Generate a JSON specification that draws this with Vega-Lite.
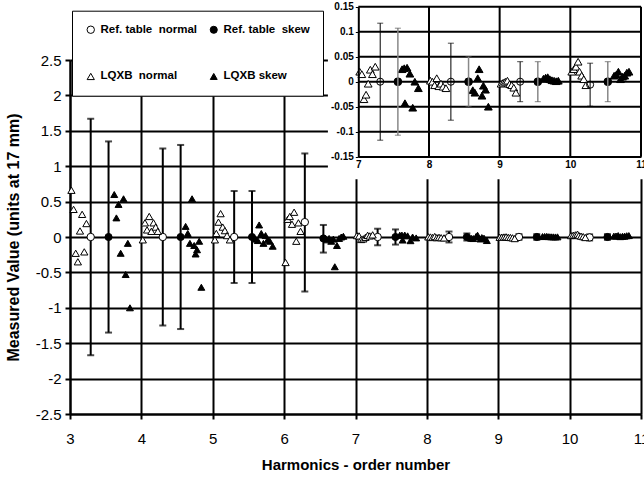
{
  "$schema": "https://vega.github.io/schema/vega-lite/v6.json",
  "width": 571,
  "height": 354,
  "autosize": {"type": "none"},
  "padding": {"left": 70, "top": 60, "right": 3, "bottom": 67},
  "background": "white",
  "config": {
    "font": "Liberation Sans",
    "view": {"stroke": null},
    "axis": {"labelColor": "black", "titleColor": "black", "domainColor": "black", "tickColor": "black", "gridColor": "black"}
  },
  "datasets": {
    "pts": [
      {"s": "Ref. table\u00a0 normal", "x": 3.29, "y": 0, "lo": -1.67, "hi": 1.67},
      {"s": "Ref. table\u00a0 normal", "x": 4.3, "y": 0, "lo": -1.25, "hi": 1.25},
      {"s": "Ref. table\u00a0 normal", "x": 5.3, "y": 0, "lo": -0.65, "hi": 0.65},
      {"s": "Ref. table\u00a0 normal", "x": 6.29, "y": 0.21, "lo": -0.77, "hi": 1.18},
      {"s": "Ref. table\u00a0 normal", "x": 7.31, "y": 0, "lo": -0.117, "hi": 0.117},
      {"s": "Ref. table\u00a0 normal", "x": 8.31, "y": 0, "lo": -0.077, "hi": 0.077},
      {"s": "Ref. table\u00a0 normal", "x": 9.29, "y": 0, "lo": -0.04, "hi": 0.04},
      {"s": "Ref. table\u00a0 normal", "x": 10.28, "y": -0.006, "lo": -0.049, "hi": 0.037},
      {"s": "Ref. table\u00a0 skew", "x": 3.54, "y": 0, "lo": -1.35, "hi": 1.35},
      {"s": "Ref. table\u00a0 skew", "x": 4.55, "y": 0, "lo": -1.3, "hi": 1.3},
      {"s": "Ref. table\u00a0 skew", "x": 5.55, "y": 0, "lo": -0.65, "hi": 0.65},
      {"s": "Ref. table\u00a0 skew", "x": 6.55, "y": -0.02, "lo": -0.22, "hi": 0.17},
      {"s": "Ref. table\u00a0 skew", "x": 7.56, "y": 0, "lo": -0.107, "hi": 0.107},
      {"s": "Ref. table\u00a0 skew", "x": 8.56, "y": 0, "lo": -0.05, "hi": 0.05},
      {"s": "Ref. table\u00a0 skew", "x": 9.54, "y": 0, "lo": -0.04, "hi": 0.04},
      {"s": "Ref. table\u00a0 skew", "x": 10.53, "y": 0, "lo": -0.04, "hi": 0.04},
      {"s": "LQXB\u00a0 normal", "x": 3.02, "y": 0.66}, {"s": "LQXB\u00a0 normal", "x": 3.05, "y": 0.39},
      {"s": "LQXB\u00a0 normal", "x": 3.08, "y": -0.23}, {"s": "LQXB\u00a0 normal", "x": 3.11, "y": -0.35},
      {"s": "LQXB\u00a0 normal", "x": 3.14, "y": 0.085}, {"s": "LQXB\u00a0 normal", "x": 3.17, "y": 0.32},
      {"s": "LQXB\u00a0 normal", "x": 3.2, "y": -0.21}, {"s": "LQXB\u00a0 normal", "x": 3.23, "y": 0.19},
      {"s": "LQXB\u00a0 normal", "x": 4.02, "y": -0.04}, {"s": "LQXB\u00a0 normal", "x": 4.05, "y": 0.2},
      {"s": "LQXB\u00a0 normal", "x": 4.08, "y": 0.1}, {"s": "LQXB\u00a0 normal", "x": 4.11, "y": 0.29},
      {"s": "LQXB\u00a0 normal", "x": 4.14, "y": 0.08}, {"s": "LQXB\u00a0 normal", "x": 4.17, "y": 0.2},
      {"s": "LQXB\u00a0 normal", "x": 4.2, "y": 0.14}, {"s": "LQXB\u00a0 normal", "x": 4.23, "y": 0.08},
      {"s": "LQXB\u00a0 normal", "x": 5.03, "y": -0.04}, {"s": "LQXB\u00a0 normal", "x": 5.05, "y": 0.05},
      {"s": "LQXB\u00a0 normal", "x": 5.08, "y": 0.21}, {"s": "LQXB\u00a0 normal", "x": 5.11, "y": 0.33},
      {"s": "LQXB\u00a0 normal", "x": 5.14, "y": 0.14}, {"s": "LQXB\u00a0 normal", "x": 5.17, "y": 0.09},
      {"s": "LQXB\u00a0 normal", "x": 5.2, "y": 0.02}, {"s": "LQXB\u00a0 normal", "x": 5.24, "y": -0.04},
      {"s": "LQXB\u00a0 normal", "x": 6.02, "y": -0.36}, {"s": "LQXB\u00a0 normal", "x": 6.05, "y": 0.25},
      {"s": "LQXB\u00a0 normal", "x": 6.08, "y": 0.29}, {"s": "LQXB\u00a0 normal", "x": 6.11, "y": 0.18},
      {"s": "LQXB\u00a0 normal", "x": 6.14, "y": 0.35}, {"s": "LQXB\u00a0 normal", "x": 6.17, "y": -0.06},
      {"s": "LQXB\u00a0 normal", "x": 6.2, "y": 0.2}, {"s": "LQXB\u00a0 normal", "x": 6.23, "y": 0.08},
      {"s": "LQXB\u00a0 normal", "x": 7.02, "y": 0.02}, {"s": "LQXB\u00a0 normal", "x": 7.05, "y": 0.015},
      {"s": "LQXB\u00a0 normal", "x": 7.08, "y": -0.035}, {"s": "LQXB\u00a0 normal", "x": 7.11, "y": -0.026},
      {"s": "LQXB\u00a0 normal", "x": 7.14, "y": -0.004}, {"s": "LQXB\u00a0 normal", "x": 7.17, "y": 0.024},
      {"s": "LQXB\u00a0 normal", "x": 7.2, "y": 0.015}, {"s": "LQXB\u00a0 normal", "x": 7.24, "y": 0.03},
      {"s": "LQXB\u00a0 normal", "x": 8.02, "y": 0.002}, {"s": "LQXB\u00a0 normal", "x": 8.05, "y": 0.0},
      {"s": "LQXB\u00a0 normal", "x": 8.08, "y": -0.007}, {"s": "LQXB\u00a0 normal", "x": 8.11, "y": 0.007},
      {"s": "LQXB\u00a0 normal", "x": 8.14, "y": -0.009}, {"s": "LQXB\u00a0 normal", "x": 8.17, "y": -0.004},
      {"s": "LQXB\u00a0 normal", "x": 8.2, "y": -0.01}, {"s": "LQXB\u00a0 normal", "x": 8.24, "y": -0.013},
      {"s": "LQXB\u00a0 normal", "x": 9.02, "y": -0.004}, {"s": "LQXB\u00a0 normal", "x": 9.05, "y": -0.002},
      {"s": "LQXB\u00a0 normal", "x": 9.08, "y": 0.0}, {"s": "LQXB\u00a0 normal", "x": 9.11, "y": 0.002},
      {"s": "LQXB\u00a0 normal", "x": 9.14, "y": -0.005}, {"s": "LQXB\u00a0 normal", "x": 9.17, "y": -0.007},
      {"s": "LQXB\u00a0 normal", "x": 9.2, "y": -0.012}, {"s": "LQXB\u00a0 normal", "x": 9.23, "y": -0.022},
      {"s": "LQXB\u00a0 normal", "x": 10.02, "y": 0.02}, {"s": "LQXB\u00a0 normal", "x": 10.05, "y": 0.025},
      {"s": "LQXB\u00a0 normal", "x": 10.08, "y": 0.03}, {"s": "LQXB\u00a0 normal", "x": 10.11, "y": 0.04},
      {"s": "LQXB\u00a0 normal", "x": 10.13, "y": 0.02}, {"s": "LQXB\u00a0 normal", "x": 10.16, "y": 0.012},
      {"s": "LQXB\u00a0 normal", "x": 10.19, "y": 0.005}, {"s": "LQXB\u00a0 normal", "x": 10.22, "y": -0.007},
      {"s": "LQXB skew", "x": 3.62, "y": 0.6}, {"s": "LQXB skew", "x": 3.65, "y": 0.27},
      {"s": "LQXB skew", "x": 3.68, "y": 0.46}, {"s": "LQXB skew", "x": 3.71, "y": -0.23},
      {"s": "LQXB skew", "x": 3.75, "y": 0.54}, {"s": "LQXB skew", "x": 3.78, "y": -0.53},
      {"s": "LQXB skew", "x": 3.81, "y": -0.09}, {"s": "LQXB skew", "x": 3.84, "y": -1.0},
      {"s": "LQXB skew", "x": 4.62, "y": 0.15}, {"s": "LQXB skew", "x": 4.65, "y": 0.05},
      {"s": "LQXB skew", "x": 4.68, "y": -0.09}, {"s": "LQXB skew", "x": 4.71, "y": 0.54},
      {"s": "LQXB skew", "x": 4.74, "y": -0.12}, {"s": "LQXB skew", "x": 4.76, "y": -0.24},
      {"s": "LQXB skew", "x": 4.78, "y": -0.18}, {"s": "LQXB skew", "x": 4.81, "y": -0.06},
      {"s": "LQXB skew", "x": 4.84, "y": -0.71},
      {"s": "LQXB skew", "x": 5.6, "y": -0.03}, {"s": "LQXB skew", "x": 5.63, "y": -0.05},
      {"s": "LQXB skew", "x": 5.65, "y": 0.17}, {"s": "LQXB skew", "x": 5.68, "y": 0.05},
      {"s": "LQXB skew", "x": 5.71, "y": -0.09}, {"s": "LQXB skew", "x": 5.74, "y": 0.02},
      {"s": "LQXB skew", "x": 5.77, "y": -0.04}, {"s": "LQXB skew", "x": 5.8, "y": -0.06},
      {"s": "LQXB skew", "x": 5.84, "y": -0.13},
      {"s": "LQXB skew", "x": 6.6, "y": -0.04}, {"s": "LQXB skew", "x": 6.63, "y": -0.02},
      {"s": "LQXB skew", "x": 6.66, "y": -0.06}, {"s": "LQXB skew", "x": 6.69, "y": -0.03},
      {"s": "LQXB skew", "x": 6.71, "y": -0.42}, {"s": "LQXB skew", "x": 6.74, "y": -0.12},
      {"s": "LQXB skew", "x": 6.77, "y": -0.02}, {"s": "LQXB skew", "x": 6.8, "y": 0.0},
      {"s": "LQXB skew", "x": 6.83, "y": 0.01},
      {"s": "LQXB skew", "x": 7.62, "y": 0.025}, {"s": "LQXB skew", "x": 7.65, "y": 0.027},
      {"s": "LQXB skew", "x": 7.66, "y": -0.043}, {"s": "LQXB skew", "x": 7.69, "y": 0.028},
      {"s": "LQXB skew", "x": 7.73, "y": 0.016}, {"s": "LQXB skew", "x": 7.77, "y": -0.052},
      {"s": "LQXB skew", "x": 7.8, "y": 0.0}, {"s": "LQXB skew", "x": 7.85, "y": -0.013},
      {"s": "LQXB skew", "x": 8.62, "y": -0.017}, {"s": "LQXB skew", "x": 8.65, "y": -0.022},
      {"s": "LQXB skew", "x": 8.69, "y": 0.007}, {"s": "LQXB skew", "x": 8.71, "y": 0.025},
      {"s": "LQXB skew", "x": 8.75, "y": -0.028}, {"s": "LQXB skew", "x": 8.77, "y": -0.008},
      {"s": "LQXB skew", "x": 8.8, "y": -0.016}, {"s": "LQXB skew", "x": 8.84, "y": -0.05},
      {"s": "LQXB skew", "x": 9.62, "y": 0.006}, {"s": "LQXB skew", "x": 9.65, "y": 0.008},
      {"s": "LQXB skew", "x": 9.68, "y": 0.009}, {"s": "LQXB skew", "x": 9.71, "y": 0.005},
      {"s": "LQXB skew", "x": 9.74, "y": 0.003}, {"s": "LQXB skew", "x": 9.77, "y": 0.002},
      {"s": "LQXB skew", "x": 9.8, "y": 0.001}, {"s": "LQXB skew", "x": 9.83, "y": 0.002},
      {"s": "LQXB skew", "x": 10.62, "y": 0.012}, {"s": "LQXB skew", "x": 10.65, "y": 0.014},
      {"s": "LQXB skew", "x": 10.68, "y": 0.02}, {"s": "LQXB skew", "x": 10.71, "y": 0.005},
      {"s": "LQXB skew", "x": 10.74, "y": 0.01}, {"s": "LQXB skew", "x": 10.77, "y": 0.012},
      {"s": "LQXB skew", "x": 10.8, "y": 0.018}, {"s": "LQXB skew", "x": 10.83, "y": 0.02}
    ],
    "igy": [{"v": -0.1}, {"v": -0.05}, {"v": 0}, {"v": 0.05}, {"v": 0.1}, {"v": 0.15}],
    "igx": [{"v": 8}, {"v": 9}, {"v": 10}, {"v": 11}]
  },
  "layer": [
    {
      "data": {"name": "pts"},
      "encoding": {
        "x": {"field": "x", "type": "quantitative", "title": "Harmonics - order number",
          "scale": {"domain": [3, 11], "nice": false, "zero": false},
          "axis": {"orient": "bottom", "values": [3, 4, 5, 6, 7, 8, 9, 10, 11], "tickCount": 20, "grid": true, "gridWidth": 2, "domainWidth": 2, "tickWidth": 2, "tickSize": 5,
            "labelFontSize": 15, "labelPadding": 12, "labelFlush": false, "labelOverlap": false, "labelExpr": "'' + datum.value",
            "titleFontSize": 15, "titleFontWeight": "bold", "titlePadding": 11, "zindex": 0}}
      },
      "layer": [
        {
          "transform": [{"filter": "isValid(datum.lo)"}],
          "mark": {"type": "rule", "color": "black", "strokeWidth": 2},
          "encoding": {
            "y": {"field": "lo", "type": "quantitative", "title": "Measured Value (units at 17 mm)",
              "scale": {"domain": [-2.5, 2.5], "nice": false, "zero": false},
              "axis": {"orient": "left", "values": [-2.5, -2, -1.5, -1, -0.5, 0, 0.5, 1, 1.5, 2, 2.5], "tickCount": 20, "grid": true, "gridWidth": 2, "domainWidth": 2, "tickWidth": 2, "tickSize": 5,
                "labelFontSize": 15, "labelPadding": 4, "labelOverlap": false, "labelExpr": "'' + datum.value",
                "titleFontSize": 16, "titleFontWeight": "bold", "titlePadding": 14, "zindex": 0}},
            "y2": {"field": "hi"}
          }
        },
        {
          "transform": [{"filter": "isValid(datum.lo)"}],
          "mark": {"type": "point", "shape": "stroke", "size": 49, "stroke": "black", "strokeWidth": 2, "filled": false},
          "encoding": {"y": {"field": "lo", "type": "quantitative"}}
        },
        {
          "transform": [{"filter": "isValid(datum.lo)"}],
          "mark": {"type": "point", "shape": "stroke", "size": 49, "stroke": "black", "strokeWidth": 2, "filled": false},
          "encoding": {"y": {"field": "hi", "type": "quantitative"}}
        },
        {
          "mark": {"type": "point", "filled": true, "strokeWidth": 1, "opacity": 1},
          "encoding": {
            "y": {"field": "y", "type": "quantitative"},
            "shape": {"field": "s", "type": "nominal", "title": null,
              "scale": {"domain": ["Ref. table\u00a0 normal", "LQXB\u00a0 normal", "Ref. table\u00a0 skew", "LQXB skew"], "range": ["circle", "triangle-up", "circle", "triangle-up"]},
              "legend": {"orient": "none", "legendX": 2, "legendY": -49.3, "columns": 2, "padding": 13, "rowPadding": 34, "columnPadding": 11,
                "fillColor": "white", "strokeColor": "black", "labelFontWeight": "bold", "labelFontSize": 11.5, "labelColor": "black", "labelOffset": 4, "labelLimit": 250, "symbolStrokeWidth": 1}},
            "fill": {"field": "s", "type": "nominal", "title": null,
              "scale": {"domain": ["Ref. table\u00a0 normal", "LQXB\u00a0 normal", "Ref. table\u00a0 skew", "LQXB skew"], "range": ["white", "white", "black", "black"]},
              "legend": {"orient": "none", "legendX": 2, "legendY": -49.3, "columns": 2, "padding": 13, "rowPadding": 34, "columnPadding": 11,
                "fillColor": "white", "strokeColor": "black", "labelFontWeight": "bold", "labelFontSize": 11.5, "labelColor": "black", "labelOffset": 4, "labelLimit": 250, "symbolStrokeWidth": 1}},
            "stroke": {"field": "s", "type": "nominal", "title": null,
              "scale": {"domain": ["Ref. table\u00a0 normal", "LQXB\u00a0 normal", "Ref. table\u00a0 skew", "LQXB skew"], "range": ["black", "black", "black", "black"]},
              "legend": {"orient": "none", "legendX": 2, "legendY": -49.3, "columns": 2, "padding": 13, "rowPadding": 34, "columnPadding": 11,
                "fillColor": "white", "strokeColor": "black", "labelFontWeight": "bold", "labelFontSize": 11.5, "labelColor": "black", "labelOffset": 4, "labelLimit": 250, "symbolStrokeWidth": 1}},
            "size": {"field": "s", "type": "nominal", "title": null,
              "scale": {"domain": ["Ref. table\u00a0 normal", "LQXB\u00a0 normal", "Ref. table\u00a0 skew", "LQXB skew"], "range": [55, 48, 55, 36]},
              "legend": {"orient": "none", "legendX": 2, "legendY": -49.3, "columns": 2, "padding": 13, "rowPadding": 34, "columnPadding": 11,
                "fillColor": "white", "strokeColor": "black", "labelFontWeight": "bold", "labelFontSize": 11.5, "labelColor": "black", "labelOffset": 4, "labelLimit": 250, "symbolStrokeWidth": 1}}
          }
        }
      ]
    },
    {
      "encoding": {
        "x": {"type": "quantitative", "title": null,
          "scale": {"domain": [7, 11], "range": [288.3, 571], "nice": false, "zero": false},
          "axis": {"orient": "bottom", "offset": -257.6, "values": [7, 8, 9, 10, 11], "tickCount": 20, "grid": false, "domainWidth": 2, "tickSize": 0,
            "labelFontSize": 10, "labelFontWeight": "bold", "labelPadding": 3, "labelFlush": false, "labelOverlap": false, "labelExpr": "'' + datum.value", "zindex": 2}},
        "y": {"type": "quantitative", "title": null,
          "scale": {"domain": [-0.15, 0.15], "range": [96.7, -53.3], "nice": false, "zero": false},
          "axis": {"orient": "left", "offset": -288.3, "values": [-0.15, -0.1, -0.05, 0, 0.05, 0.1, 0.15], "tickCount": 20, "grid": false, "domainWidth": 2, "tickSize": 3, "tickWidth": 1,
            "labelFontSize": 10, "labelFontWeight": "bold", "labelPadding": 2, "labelOverlap": false, "labelExpr": "'' + datum.value", "zindex": 2}}
      },
      "layer": [
        {
          "data": {"values": [{}]},
          "mark": {"type": "rect", "fill": "white", "stroke": null},
          "encoding": {
            "x": {"datum": 6.57, "type": "quantitative"},
            "x2": {"datum": 11.2},
            "y": {"datum": 0.175, "type": "quantitative"},
            "y2": {"datum": -0.195}
          }
        },
        {
          "data": {"name": "igy"},
          "mark": {"type": "rule", "color": "black", "strokeWidth": 2},
          "encoding": {
            "x": {"datum": 7, "type": "quantitative"},
            "x2": {"datum": 11},
            "y": {"field": "v", "type": "quantitative"}
          }
        },
        {
          "data": {"name": "igx"},
          "mark": {"type": "rule", "color": "black", "strokeWidth": 2},
          "encoding": {
            "x": {"field": "v", "type": "quantitative"},
            "y": {"datum": -0.15, "type": "quantitative"},
            "y2": {"datum": 0.15}
          }
        },
        {
          "data": {"name": "pts"},
          "transform": [{"filter": "datum.x >= 7 && datum.s != 'Ref. table\u00a0 normal'"}],
          "mark": {"type": "point", "filled": true, "strokeWidth": 1, "opacity": 1, "size": 60},
          "encoding": {
            "x": {"field": "x", "type": "quantitative"},
            "y": {"field": "y", "type": "quantitative"},
            "shape": {"field": "s", "type": "nominal", "title": null},
            "fill": {"field": "s", "type": "nominal", "title": null},
            "stroke": {"field": "s", "type": "nominal", "title": null}
          }
        },
        {
          "data": {"name": "pts"},
          "transform": [{"filter": "datum.x >= 7 && datum.s == 'Ref. table\u00a0 normal'"}],
          "mark": {"type": "point", "shape": "circle", "filled": false, "fill": "transparent", "stroke": "black", "strokeWidth": 1, "opacity": 1, "size": 50},
          "encoding": {
            "x": {"field": "x", "type": "quantitative"},
            "y": {"field": "y", "type": "quantitative"}
          }
        },
        {
          "data": {"name": "pts"},
          "transform": [{"filter": "datum.x >= 7 && datum.s == 'Ref. table\u00a0 normal'"}],
          "mark": {"type": "rule", "color": "black", "strokeWidth": 1},
          "encoding": {
            "x": {"field": "x", "type": "quantitative"},
            "y": {"field": "lo", "type": "quantitative"},
            "y2": {"field": "hi"}
          }
        },
        {
          "data": {"name": "pts"},
          "transform": [{"filter": "datum.x >= 7 && datum.s == 'Ref. table\u00a0 normal'"}],
          "mark": {"type": "point", "shape": "stroke", "size": 36, "stroke": "black", "strokeWidth": 1, "filled": false},
          "encoding": {"x": {"field": "x", "type": "quantitative"}, "y": {"field": "lo", "type": "quantitative"}}
        },
        {
          "data": {"name": "pts"},
          "transform": [{"filter": "datum.x >= 7 && datum.s == 'Ref. table\u00a0 normal'"}],
          "mark": {"type": "point", "shape": "stroke", "size": 36, "stroke": "black", "strokeWidth": 1, "filled": false},
          "encoding": {"x": {"field": "x", "type": "quantitative"}, "y": {"field": "hi", "type": "quantitative"}}
        },
        {
          "data": {"name": "pts"},
          "transform": [{"filter": "datum.x >= 7 && datum.s == 'Ref. table\u00a0 skew'"}],
          "mark": {"type": "rule", "color": "#888888", "strokeWidth": 1.5},
          "encoding": {
            "x": {"field": "x", "type": "quantitative"},
            "y": {"field": "lo", "type": "quantitative"},
            "y2": {"field": "hi"}
          }
        },
        {
          "data": {"name": "pts"},
          "transform": [{"filter": "datum.x >= 7 && datum.s == 'Ref. table\u00a0 skew'"}],
          "mark": {"type": "point", "shape": "stroke", "size": 36, "stroke": "#555555", "strokeWidth": 1, "filled": false},
          "encoding": {"x": {"field": "x", "type": "quantitative"}, "y": {"field": "lo", "type": "quantitative"}}
        },
        {
          "data": {"name": "pts"},
          "transform": [{"filter": "datum.x >= 7 && datum.s == 'Ref. table\u00a0 skew'"}],
          "mark": {"type": "point", "shape": "stroke", "size": 36, "stroke": "#555555", "strokeWidth": 1, "filled": false},
          "encoding": {"x": {"field": "x", "type": "quantitative"}, "y": {"field": "hi", "type": "quantitative"}}
        }
      ]
    }
  ],
  "resolve": {"scale": {"x": "independent", "y": "independent"}, "axis": {"x": "independent", "y": "independent"}}
}
